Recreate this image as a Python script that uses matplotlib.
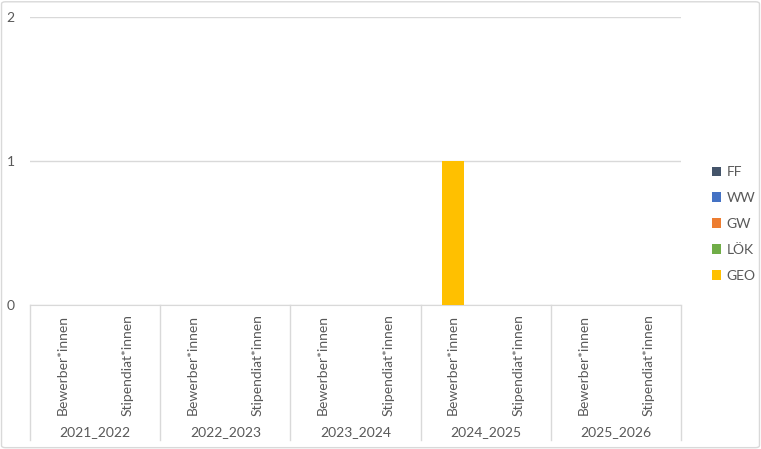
import numpy as np
import matplotlib
matplotlib.use("Agg")
import matplotlib.pyplot as plt
from matplotlib.patches import FancyBboxPatch
from matplotlib.lines import Line2D

plt.rcParams['font.family'] = ['Lato', 'DejaVu Sans']

years = ['2021_2022', '2022_2023', '2023_2024', '2024_2025', '2025_2026']
groups = ['Bewerber*innen', 'Stipendiat*innen']
series = ['FF', 'WW', 'GW', 'LÖK', 'GEO']
colors = ['#44546A', '#4472C4', '#ED7D31', '#70AD47', '#FFC000']

# one value per (year, group), order: year by year, Bewerber then Stipendiat
FF  = [0, 0, 0, 0, 0, 0, 0, 0, 0, 0]
WW  = [0, 0, 0, 0, 0, 0, 0, 0, 0, 0]
GW  = [0, 0, 0, 0, 0, 0, 0, 0, 0, 0]
LOK = [0, 0, 0, 0, 0, 0, 0, 0, 0, 0]
GEO = [0, 0, 0, 0, 0, 0, 1, 0, 0, 0]
values = [FF, WW, GW, LOK, GEO]

W, H = 761, 449
fig = plt.figure(figsize=(W / 100, H / 100), dpi=100)
ax = fig.add_axes([30 / W, (H - 305) / H, 651 / W, 288 / H])

txt = '#595959'
grid = '#D9D9D9'

x = np.arange(len(FF)) + 0.5
bottom = np.zeros(len(FF))
for name, vals, col in zip(series, values, colors):
    ax.bar(x, vals, width=0.33, bottom=bottom, color=col, label=name, zorder=3)
    bottom += np.array(vals)

ax.set_xlim(0, len(FF))
ax.set_ylim(0, 2)
ax.set_yticks([0, 1, 2])
ax.yaxis.grid(True, color=grid, linewidth=1)
ax.set_axisbelow(True)
for s in ['left', 'right', 'top']:
    ax.spines[s].set_visible(False)
ax.spines['bottom'].set_color(grid)
ax.tick_params(axis='y', length=0, labelsize=10, labelcolor=txt, pad=11)
ax.tick_params(axis='x', length=0, labelbottom=False)

trans = ax.get_xaxis_transform()
for i, xi in enumerate(x):
    ax.text(xi, -0.208, groups[i % 2], rotation=90, ha='center', va='center',
            fontsize=10, color=txt, transform=trans)
for j, yr in enumerate(years):
    ax.text(2 * j + 1, -0.441, yr, ha='center', va='center',
            fontsize=10, color=txt, transform=trans)
for k in range(len(years) + 1):
    ax.add_line(Line2D([2 * k, 2 * k], [0, -0.469], color=grid, linewidth=1,
                       transform=trans, clip_on=False))

handles, labels = ax.get_legend_handles_labels()
leg = fig.legend(handles, labels, loc='center left', bbox_to_anchor=(699 / W, (H - 224) / H),
                 frameon=False, fontsize=10, handlelength=0.7, handleheight=0.7,
                 handletextpad=0.4, labelspacing=1.0)
for t in leg.get_texts():
    t.set_color(txt)

fig.patches.append(FancyBboxPatch((0.002, 0.003), 0.996, 0.993, boxstyle='round,pad=0,rounding_size=0.005',
                                  transform=fig.transFigure, facecolor='none',
                                  edgecolor=grid, linewidth=1))

fig.savefig('out.png', dpi=100)
